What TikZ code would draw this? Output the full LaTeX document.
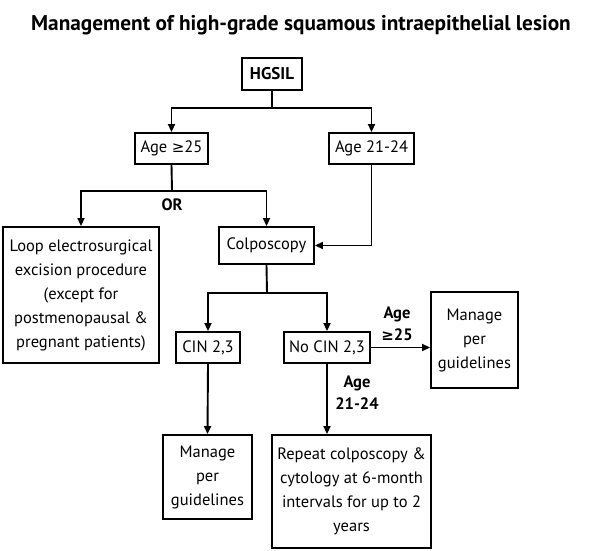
\documentclass[tikz,border=0pt]{standalone}
\usepackage{fontspec}
\setmainfont{PT Sans}
\newfontfamily\symf{DejaVu Sans}
\newcommand\gsym{{\symf\fontsize{15}{16}\selectfont ≥}}
\usetikzlibrary{arrows.meta}
\begin{document}
\begin{tikzpicture}[x=1pt,y=-1pt,
  box/.style={draw,line width=1.9pt,align=center,inner sep=0pt,font=\fontsize{16.5}{24}\selectfont},
  lbl/.style={align=center,font=\bfseries\fontsize{16.5}{22}\selectfont},
  arr/.style={line width=1.9pt,-{Triangle[length=8pt,width=7pt]}},
  ln/.style={line width=1.9pt}]
\useasboundingbox[fill=white] (0,0) rectangle (605,551);
\node[font=\bfseries\fontsize{21.3}{24}\selectfont] (title) at (301,25) {Management of high-grade squamous intraepithelial lesion};
\node[box,minimum width=60pt,minimum height=32pt,font=\bfseries\fontsize{17}{24}\selectfont] (hg) at (272,74) {HGSIL};
\node[box,minimum width=73pt,minimum height=31pt] (a25) at (171.5,148.5) {Age \gsym25};
\node[box,minimum width=85pt,minimum height=31pt] (a21) at (371.5,148.5) {Age 21-24};
\node[box,minimum width=156pt,minimum height=136pt] (loop) at (81,295) {Loop electrosurgical\\excision procedure\\(except for\\postmenopausal \&\\pregnant patients)};
\node[box,minimum width=95pt,minimum height=37pt] (colpo) at (266.5,245.5) {Colposcopy};
\node[box,minimum width=64pt,minimum height=31pt] (cin) at (208,347.5) {CIN 2,3};
\node[box,minimum width=86pt,minimum height=31pt] (nocin) at (327,347.5) {No CIN 2,3};
\node[box,minimum width=87pt,minimum height=96pt] (manr) at (474.5,340) {Manage\\per\\guidelines};
\node[box,minimum width=89pt,minimum height=84pt] (manb) at (207.5,477) {Manage\\per\\guidelines};
\node[box,minimum width=159pt,minimum height=113pt] (rep) at (351.5,491.5) {Repeat colposcopy \&\\cytology at 6-month\\intervals for up to 2\\years};
\node[lbl] (or) at (172,205) {OR};
\node[lbl] (l25) at (397,324) {Age\\\gsym25};
\node[lbl] (l21) at (357,393) {Age\\21-24};
\coordinate (j1) at (272,108);
\coordinate (j2) at (172,191);
\coordinate (j3) at (267,293);
\draw[ln] (hg.south) -- (j1);
\draw[arr] (j1) -| (a25.north);
\draw[arr] (j1) -| (a21.north);
\draw[ln] (a25.south) -- (j2);
\draw[arr] (j2) -| (loop.north);
\draw[arr] (j2) -| (colpo.north);
\draw[arr] (a21.south) |- (colpo.east);
\draw[ln] (colpo.south) -- (j3);
\draw[arr] (j3) -| (cin.north);
\draw[arr] (j3) -| (nocin.north);
\draw[arr] (nocin.east) -- (nocin.east -| manr.west);
\draw[arr] (cin.south) -- (manb.north);
\draw[arr] (nocin.south) -- (nocin.south |- rep.north);
\end{tikzpicture}
\end{document}
